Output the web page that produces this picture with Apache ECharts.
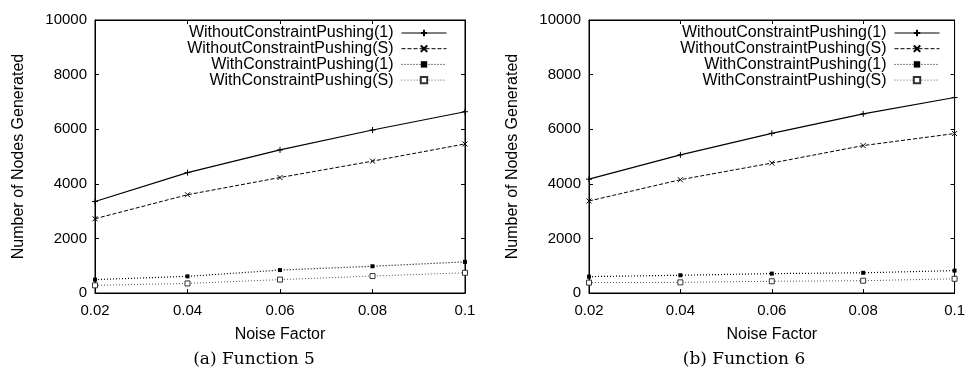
<!DOCTYPE html>
<html>
<head>
<meta charset="utf-8">
<script src="https://cdn.jsdelivr.net/npm/echarts@6/dist/echarts.min.js"></script>
<style>
  html, body { margin: 0; padding: 0; background: #fff; }
  #chart { width: 968px; height: 369px; }
</style>
</head>
<body>
<div id="chart"></div>
<script>
const noiseFactors = ["0.02", "0.04", "0.06", "0.08", "0.1"]
const seriesNames = [
  "WithoutConstraintPushing(1)",
  "WithoutConstraintPushing(S)",
  "WithConstraintPushing(1)",
  "WithConstraintPushing(S)",
]

// (a) Function 5
const f5WithoutOne = [3350, 4410, 5240, 5970, 6640]
const f5WithoutS = [2720, 3600, 4230, 4830, 5460]
const f5WithOne = [490, 610, 840, 980, 1140]
const f5WithS = [280, 350, 490, 620, 740]

// (b) Function 6
const f6WithoutOne = [4170, 5060, 5850, 6560, 7160]
const f6WithoutS = [3370, 4150, 4760, 5400, 5840]
const f6WithOne = [600, 650, 710, 740, 820]
const f6WithS = [380, 390, 430, 450, 520]

const captions = ["(a) Function 5", "(b) Function 6"]
const yTicks = { min: 0, max: 10000, interval: 2000 }

const font = "Liberation Sans, Arial, sans-serif"
const plusPath = "path://M0,5L10,5M5,0L5,10"
const crossPath = "path://M0,0L10,10M10,0L0,10"

const styles = [
  { line: { type: "solid", width: 1.2, color: "#000" }, symbol: plusPath, size: 6, item: { color: "none", borderColor: "#000", borderWidth: 1 } },
  { line: { type: [4, 2], width: 1, color: "#000" }, symbol: crossPath, size: 5, item: { color: "none", borderColor: "#000", borderWidth: 1 } },
  { line: { type: [1, 2], width: 1.2, color: "#000" }, symbol: "rect", size: 4, item: { color: "#000" } },
  { line: { type: [1, 2], width: 1, color: "#555" }, symbol: "rect", size: 5, item: { color: "#fff", borderColor: "#333", borderWidth: 1 } },
]

const grids = [
  { left: 95, right: 503, top: 20, bottom: 76 },
  { left: 589, right: 7, top: 20, bottom: 76 },
]
const chartData = [
  [f5WithoutOne, f5WithoutS, f5WithOne, f5WithS],
  [f6WithoutOne, f6WithoutS, f6WithOne, f6WithS],
]

const chart = echarts.init(document.getElementById("chart"), null, { renderer: "canvas" })

const xAxis = []
const yAxis = []
const series = []
const legend = []
const graphic = []

const tick = { show: true, inside: true, length: 4, lineStyle: { color: "#000" } }
const line = { show: true, onZero: false, lineStyle: { color: "#000", width: 1 } }

grids.forEach((g, gi) => {
  xAxis.push({
    type: "category", gridIndex: gi, data: noiseFactors, boundaryGap: false,
    position: "bottom",
    name: "Noise Factor", nameLocation: "middle", nameGap: 34,
    nameTextStyle: { fontFamily: font, fontSize: 16, color: "#000" },
    axisLine: line, axisTick: tick,
    axisLabel: { fontFamily: font, fontSize: 15, color: "#000", margin: 10 },
    splitLine: { show: false },
  })
  xAxis.push({
    type: "category", gridIndex: gi, data: noiseFactors, boundaryGap: false,
    position: "top",
    axisLine: line, axisTick: tick,
    axisLabel: { show: false },
    splitLine: { show: false },
  })
  yAxis.push({
    type: "value", gridIndex: gi, position: "left", ...yTicks,
    name: "Number of Nodes Generated", nameLocation: "middle", nameGap: 68,
    nameTextStyle: { fontFamily: font, fontSize: 16, color: "#000" },
    axisLine: line, axisTick: tick,
    axisLabel: { fontFamily: font, fontSize: 15, color: "#000", margin: 8, formatter: (v) => String(v) },
    splitLine: { show: false },
  })
  yAxis.push({
    type: "value", gridIndex: gi, position: "right", ...yTicks,
    axisLine: line, axisTick: tick,
    axisLabel: { show: false },
    splitLine: { show: false },
  })

  seriesNames.forEach((name, si) => {
    const st = styles[si]
    series.push({
      name, type: "line",
      xAxisIndex: gi * 2, yAxisIndex: gi * 2,
      data: chartData[gi][si],
      symbol: st.symbol, symbolSize: st.size, showSymbol: true,
      lineStyle: st.line, itemStyle: st.item,
      z: 10 - si, animation: false,
    })
  })

  // one legend per row so the labels line up on their right edge
  const legendRight = gi === 0 ? 521 : 28
  seriesNames.forEach((name, si) => {
    legend.push({
      data: [name], orient: "vertical", align: "right",
      right: legendRight, top: 25 + si * 15.7,
      itemWidth: 45, itemHeight: 8, itemGap: 0, padding: 0,
      lineStyle: { width: 1 },
      textStyle: { fontFamily: font, fontSize: 16, color: "#000", padding: [0, 3, 0, 0] },
      selectedMode: false,
    })
  })

  graphic.push({
    type: "text",
    x: gi === 0 ? 254 : 744, y: 351,
    style: { text: captions[gi], font: "17px 'DejaVu Serif', serif", fill: "#000", align: "center", verticalAlign: "top" },
  })
})

chart.setOption({
  backgroundColor: "#fff",
  animation: false,
  grid: grids.map((g) => ({ ...g, show: true, borderColor: "#000", borderWidth: 1 })),
  xAxis, yAxis, series, legend, graphic,
})
</script>
</body>
</html>
